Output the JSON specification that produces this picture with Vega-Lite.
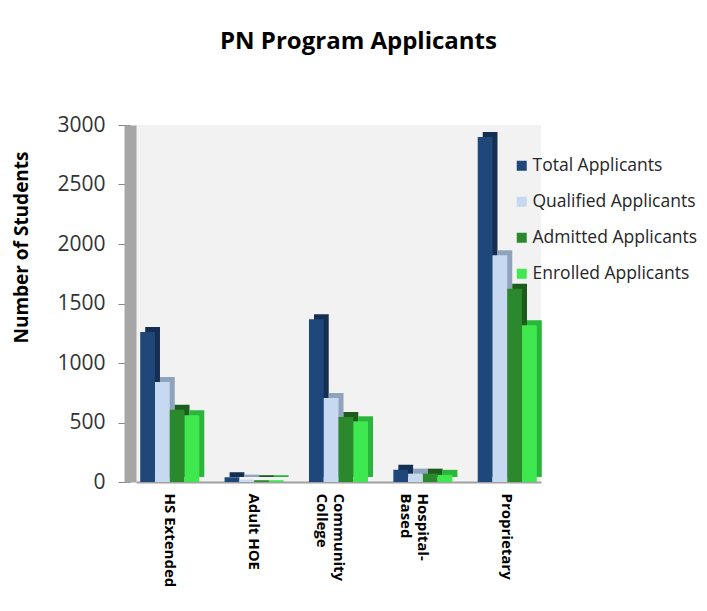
{
  "$schema": "https://vega.github.io/schema/vega-lite/v6.json",
  "autosize": {"type": "none"},
  "width": 405,
  "height": 357,
  "padding": {"left": 136, "top": 125, "right": 166, "bottom": 129},
  "background": "white",
  "title": {
    "text": "PN Program Applicants",
    "font": "Open Sans",
    "fontSize": 24,
    "fontWeight": "bold",
    "color": "#000000",
    "anchor": "middle",
    "dx": 20,
    "offset": 60
  },
  "data": {
    "values": [
      {"program": "HS Extended", "series": "Total Applicants", "value": 1260},
      {"program": "HS Extended", "series": "Qualified Applicants", "value": 840},
      {"program": "HS Extended", "series": "Admitted Applicants", "value": 608},
      {"program": "HS Extended", "series": "Enrolled Applicants", "value": 560},
      {"program": "Adult HOE", "series": "Total Applicants", "value": 40},
      {"program": "Adult HOE", "series": "Qualified Applicants", "value": 20},
      {"program": "Adult HOE", "series": "Admitted Applicants", "value": 15},
      {"program": "Adult HOE", "series": "Enrolled Applicants", "value": 15},
      {"program": "Community College", "series": "Total Applicants", "value": 1367},
      {"program": "Community College", "series": "Qualified Applicants", "value": 706},
      {"program": "Community College", "series": "Admitted Applicants", "value": 546},
      {"program": "Community College", "series": "Enrolled Applicants", "value": 510},
      {"program": "Hospital-Based", "series": "Total Applicants", "value": 103},
      {"program": "Hospital-Based", "series": "Qualified Applicants", "value": 70},
      {"program": "Hospital-Based", "series": "Admitted Applicants", "value": 70},
      {"program": "Hospital-Based", "series": "Enrolled Applicants", "value": 60},
      {"program": "Proprietary", "series": "Total Applicants", "value": 2900},
      {"program": "Proprietary", "series": "Qualified Applicants", "value": 1905},
      {"program": "Proprietary", "series": "Admitted Applicants", "value": 1625},
      {"program": "Proprietary", "series": "Enrolled Applicants", "value": 1317}
    ]
  },
  "encoding": {
    "x": {
      "field": "program",
      "type": "nominal",
      "sort": ["HS Extended", "Adult HOE", "Community College", "Hospital-Based", "Proprietary"],
      "scale": {"paddingInner": 0.3, "paddingOuter": 0.05},
      "axis": {
        "title": null,
        "labelAngle": 90,
        "labelFont": "Open Sans",
        "labelFontSize": 15,
        "labelFontWeight": "bold",
        "labelColor": "#000000",
        "labelPadding": 11,
        "ticks": false,
        "domainColor": "#a0a0a0",
        "domainWidth": 2,
        "labelExpr": "datum.value == 'Community College' ? ['Community', 'College'] : datum.value == 'Hospital-Based' ? ['Hospital-', 'Based'] : datum.label"
      }
    },
    "y": {
      "field": "value",
      "type": "quantitative",
      "scale": {"domain": [0, 3000]},
      "axis": {
        "title": "Number of Students",
        "titleFont": "Open Sans",
        "titleFontSize": 19,
        "titleFontWeight": "bold",
        "titleColor": "#000000",
        "titleAngle": -90,
        "titleX": -109,
        "titleY": 122,
        "titleAlign": "center",
        "titleBaseline": "middle",
        "values": [0, 500, 1000, 1500, 2000, 2500, 3000],
        "format": "d",
        "offset": 6,
        "labelFont": "Open Sans",
        "labelFontSize": 21,
        "labelColor": "#333333",
        "labelPadding": 13,
        "tickSize": 12,
        "tickColor": "#868686",
        "domainColor": "#a6a6a6",
        "domainWidth": 12,
        "grid": false
      }
    }
  },
  "layer": [
    {
      "mark": {"type": "bar", "yOffset": -5},
      "encoding": {
        "xOffset": {
          "field": "series",
          "sort": ["Total Applicants", "Qualified Applicants", "Admitted Applicants", "Enrolled Applicants"],
          "scale": {"paddingInner": 0, "range": [5, 64.06]}
        },
        "color": {
          "field": "series",
          "type": "nominal",
          "scale": {
            "domain": ["Total Applicants", "Qualified Applicants", "Admitted Applicants", "Enrolled Applicants"],
            "range": ["#142f52", "#8fa3bd", "#1d5c1d", "#2ab63a"]
          },
          "legend": null
        }
      }
    },
    {
      "mark": {"type": "bar"},
      "encoding": {
        "xOffset": {
          "field": "series",
          "sort": ["Total Applicants", "Qualified Applicants", "Admitted Applicants", "Enrolled Applicants"],
          "scale": {"paddingInner": 0}
        },
        "color": {
          "field": "series",
          "type": "nominal",
          "scale": {
            "domain": ["Total Applicants", "Qualified Applicants", "Admitted Applicants", "Enrolled Applicants"],
            "range": ["#1f477a", "#c6d9f1", "#2c882c", "#40e850"]
          },
          "legend": {
            "title": null,
            "orient": "none",
            "legendX": 377,
            "legendY": 32,
            "symbolType": "square",
            "symbolSize": 100,
            "symbolStrokeWidth": 0,
            "labelFont": "Open Sans",
            "labelFontSize": 17.5,
            "labelColor": "#262626",
            "labelOffset": 2,
            "labelLimit": 260,
            "rowPadding": 17
          }
        }
      }
    }
  ],
  "resolve": {"scale": {"color": "independent", "xOffset": "independent"}},
  "config": {
    "view": {"fill": "#f2f2f2", "stroke": null}
  }
}
